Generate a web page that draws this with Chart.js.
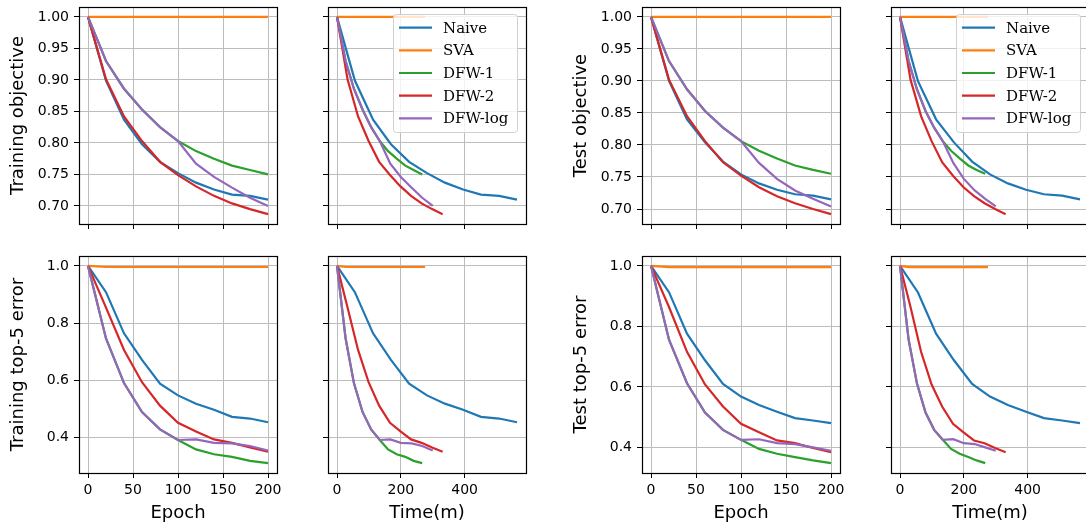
<!DOCTYPE html>
<html>
<head>
<meta charset="utf-8">
<script src="https://cdn.jsdelivr.net/npm/chart.js@4/dist/chart.umd.min.js"></script>
<style>
    html, body { margin: 0; padding: 0; background: #fff; overflow: hidden; }
    body { width: 1086px; height: 527px; position: relative; }
    .panel { position: absolute; }
    .panel canvas { display: block; }
</style>
</head>
<body>
<div id="p1" class="panel"><canvas></canvas></div>
<div id="p2" class="panel"><canvas></canvas></div>
<div id="p3" class="panel"><canvas></canvas></div>
<div id="p4" class="panel"><canvas></canvas></div>
<div id="p5" class="panel"><canvas></canvas></div>
<div id="p6" class="panel"><canvas></canvas></div>
<div id="p7" class="panel"><canvas></canvas></div>
<div id="p8" class="panel"><canvas></canvas></div>
<script>
// Series and logged epochs
const seriesNames = ['Naive', 'SVA', 'DFW-1', 'DFW-2', 'DFW-log'];
const seriesColors = ['#1f77b4', '#ff7f0e', '#2ca02c', '#d62728', '#9467bd'];
const epochs = [0, 20, 40, 60, 80, 100, 120, 140, 160, 180, 200];

// Wall-clock minutes at each logged epoch
const timeNaive  = [0, 56, 113, 169, 226, 282, 338, 395, 451, 508, 564];
const timeSVA    = [0, 28, 55, 83, 110, 138, 166, 193, 221, 248, 276];
const timeDFW1   = [0, 27, 53, 80, 107, 134, 160, 187, 214, 240, 267];
const timeDFW2   = [0, 33, 66, 99, 132, 166, 199, 232, 265, 298, 331];
const timeDFWlog = [0, 27, 53, 80, 107, 134, 167, 200, 234, 267, 300];

// Training objective
const trainObjNaive  = [1.0, 0.899, 0.837, 0.798, 0.770, 0.752, 0.737, 0.726, 0.718, 0.716, 0.710];
const trainObjSVA    = [1.0, 1.0, 1.0, 1.0, 1.0, 1.0, 1.0, 1.0, 1.0, 1.0, 1.0];
const trainObjDFW1   = [1.0, 0.930, 0.886, 0.853, 0.825, 0.803, 0.787, 0.775, 0.764, 0.757, 0.750];
const trainObjDFW2   = [1.0, 0.901, 0.842, 0.803, 0.770, 0.749, 0.731, 0.716, 0.704, 0.695, 0.687];
const trainObjDFWlog = [1.0, 0.930, 0.886, 0.853, 0.825, 0.803, 0.767, 0.746, 0.729, 0.713, 0.700];

// Training top-5 error
const trainErrNaive  = [1.0, 0.908, 0.764, 0.671, 0.588, 0.547, 0.518, 0.497, 0.472, 0.466, 0.453];
const trainErrSVA    = [1.0, 0.996, 0.996, 0.996, 0.996, 0.996, 0.996, 0.996, 0.996, 0.996, 0.996];
const trainErrDFW1   = [1.0, 0.746, 0.590, 0.489, 0.428, 0.391, 0.358, 0.341, 0.332, 0.318, 0.310];
const trainErrDFW2   = [1.0, 0.854, 0.706, 0.593, 0.511, 0.451, 0.421, 0.393, 0.381, 0.365, 0.350];
const trainErrDFWlog = [1.0, 0.746, 0.590, 0.489, 0.428, 0.391, 0.393, 0.381, 0.379, 0.370, 0.354];

// Test objective
const testObjNaive  = [1.0, 0.900, 0.840, 0.804, 0.774, 0.754, 0.740, 0.730, 0.723, 0.721, 0.715];
const testObjSVA    = [1.0, 1.0, 1.0, 1.0, 1.0, 1.0, 1.0, 1.0, 1.0, 1.0, 1.0];
const testObjDFW1   = [1.0, 0.931, 0.887, 0.853, 0.827, 0.806, 0.791, 0.779, 0.768, 0.761, 0.755];
const testObjDFW2   = [1.0, 0.902, 0.845, 0.806, 0.773, 0.752, 0.734, 0.720, 0.709, 0.700, 0.692];
const testObjDFWlog = [1.0, 0.931, 0.887, 0.853, 0.827, 0.806, 0.772, 0.747, 0.729, 0.716, 0.704];

// Test top-5 error
const testErrNaive  = [1.0, 0.913, 0.776, 0.688, 0.610, 0.568, 0.540, 0.518, 0.497, 0.489, 0.480];
const testErrSVA    = [1.0, 0.996, 0.996, 0.996, 0.996, 0.996, 0.996, 0.996, 0.996, 0.996, 0.996];
const testErrDFW1   = [1.0, 0.756, 0.612, 0.515, 0.458, 0.425, 0.395, 0.379, 0.368, 0.357, 0.348];
const testErrDFW2   = [1.0, 0.864, 0.716, 0.608, 0.535, 0.478, 0.450, 0.423, 0.414, 0.398, 0.384];
const testErrDFWlog = [1.0, 0.756, 0.612, 0.515, 0.458, 0.425, 0.427, 0.414, 0.411, 0.400, 0.389];

// Tick labels
const objTicks = [0.70, 0.75, 0.80, 0.85, 0.90, 0.95, 1.00];
const errTicks = [0.4, 0.6, 0.8, 1.0];
const epochTicks = [0, 50, 100, 150, 200];
const timeTicks = [0, 200, 400];

const times = [timeNaive, timeSVA, timeDFW1, timeDFW2, timeDFWlog];
const trainObj = [trainObjNaive, trainObjSVA, trainObjDFW1, trainObjDFW2, trainObjDFWlog];
const trainErr = [trainErrNaive, trainErrSVA, trainErrDFW1, trainErrDFW2, trainErrDFWlog];
const testObj = [testObjNaive, testObjSVA, testObjDFW1, testObjDFW2, testObjDFWlog];
const testErr = [testErrNaive, testErrSVA, testErrDFW1, testErrDFW2, testErrDFWlog];

const PLOT_W = 198, PLOT_H = 217;
const TICK_FONT = { family: 'DejaVu Sans', size: 14 };
const TITLE_FONT = { family: 'DejaVu Sans', size: 18 };

// matplotlib-like 5% margins around the data
function paddedRange(lists) {
    const all = [].concat(...lists);
    const lo = Math.min(...all), hi = Math.max(...all);
    const m = (hi - lo) * 0.05;
    return [lo - m, hi + m];
}

// Four black spines round the plot area
const spines = {
    id: 'spines',
    afterDatasetsDraw(chart) {
        const { ctx, chartArea: a } = chart;
        ctx.save();
        ctx.strokeStyle = '#000';
        ctx.lineWidth = 1.2;
        ctx.strokeRect(Math.round(a.left) + 0.5, Math.round(a.top) + 0.5,
            Math.round(a.right - a.left), Math.round(a.bottom - a.top));
        ctx.restore();
    }
};

// Framed legend in the upper right corner
const frameLegend = {
    id: 'frameLegend',
    afterDatasetsDraw(chart, args, opts) {
        if (!opts.show) return;
        const { ctx, chartArea: a } = chart;
        const w = 124, h = 118;
        const left = a.right - 9 - w, top = a.top + 7;
        ctx.save();
        ctx.beginPath();
        ctx.roundRect(left + 0.5, top + 0.5, w, h, 3);
        ctx.fillStyle = 'rgba(255,255,255,0.8)';
        ctx.fill();
        ctx.strokeStyle = '#d0d0d0';
        ctx.lineWidth = 1;
        ctx.stroke();
        ctx.font = '15px "DejaVu Serif"';
        ctx.textBaseline = 'middle';
        ctx.fillStyle = '#000';
        chart.data.datasets.forEach((ds, i) => {
            const y = top + 13.7 + i * 22.65;
            ctx.beginPath();
            ctx.moveTo(left + 6, y);
            ctx.lineTo(left + 39, y);
            ctx.strokeStyle = ds.borderColor;
            ctx.lineWidth = 2.2;
            ctx.stroke();
            ctx.fillText(ds.label, left + 50, y + 1);
        });
        ctx.restore();
    }
};

function makePanel(p) {
    const yAxisW = p.yLabels ? 79 : 8;
    const xAxisH = p.xLabels ? 54 : 8;
    const padTop = 7, padRight = 6;
    const width = yAxisW + PLOT_W + padRight;
    const height = padTop + PLOT_H + xAxisH;

    const box = document.getElementById(p.id);
    box.style.left = (p.left - yAxisW) + 'px';
    box.style.top = (p.top - padTop) + 'px';
    const canvas = box.querySelector('canvas');
    canvas.width = width;
    canvas.height = height;
    canvas.style.width = width + 'px';
    canvas.style.height = height + 'px';

    const xs = p.useTime ? times : seriesNames.map(() => epochs);
    const xRange = paddedRange(xs);
    const yRange = paddedRange(p.values);

    const datasets = seriesNames.map((name, i) => ({
        label: name,
        data: p.values[i].map((v, k) => ({ x: xs[i][k], y: v })),
        borderColor: seriesColors[i],
        borderWidth: 2.2,
        pointRadius: 0,
        tension: 0,
        fill: false,
        order: seriesNames.length - i
    }));

    const gridOpts = {
        color: '#bcbcbc',
        lineWidth: 1,
        drawTicks: true,
        tickLength: 5,
        tickColor: '#000',
        tickWidth: 1
    };

    new Chart(canvas.getContext('2d'), {
        type: 'line',
        data: { datasets },
        options: {
            responsive: false,
            animation: false,
            devicePixelRatio: 1,
            layout: { padding: { top: padTop, right: padRight, left: 0, bottom: 0 } },
            plugins: {
                legend: { display: false },
                tooltip: { enabled: false },
                frameLegend: { show: !!p.legend }
            },
            scales: {
                x: {
                    type: 'linear',
                    min: xRange[0],
                    max: xRange[1],
                    grid: gridOpts,
                    border: { display: false },
                    afterBuildTicks: s => { s.ticks = (p.useTime ? timeTicks : epochTicks).map(v => ({ value: v })); },
                    afterFit: s => { s.height = xAxisH; s.paddingLeft = 0; s.paddingRight = 0; },
                    ticks: {
                        display: p.xLabels,
                        autoSkip: false,
                        maxRotation: 0,
                        padding: 4,
                        color: '#000',
                        font: TICK_FONT,
                        callback: v => String(v)
                    },
                    title: {
                        display: p.xLabels,
                        text: p.useTime ? 'Time(m)' : 'Epoch',
                        color: '#000',
                        font: TITLE_FONT,
                        padding: { top: 0, bottom: 3 }
                    }
                },
                y: {
                    type: 'linear',
                    min: yRange[0],
                    max: yRange[1],
                    grid: gridOpts,
                    border: { display: false },
                    afterBuildTicks: s => { s.ticks = p.ticks.map(v => ({ value: v })); },
                    afterFit: s => { s.width = yAxisW; s.paddingTop = 0; s.paddingBottom = 0; },
                    ticks: {
                        display: p.yLabels,
                        autoSkip: false,
                        padding: 5,
                        color: '#000',
                        font: TICK_FONT,
                        callback: v => v.toFixed(p.digits)
                    },
                    title: {
                        display: p.yLabels,
                        text: p.yTitle,
                        color: '#000',
                        font: TITLE_FONT,
                        padding: { top: 8, bottom: 0 }
                    }
                }
            }
        },
        plugins: [spines, frameLegend]
    });
}

const panels = [
    { id: 'p1', left: 79,  top: 7,   values: trainObj, ticks: objTicks, digits: 2, yTitle: 'Training objective', yLabels: true,  xLabels: false, useTime: false },
    { id: 'p2', left: 328, top: 7,   values: trainObj, ticks: objTicks, digits: 2, yTitle: '', yLabels: false, xLabels: false, useTime: true, legend: true },
    { id: 'p3', left: 642, top: 7,   values: testObj,  ticks: objTicks, digits: 2, yTitle: 'Test objective', yLabels: true,  xLabels: false, useTime: false },
    { id: 'p4', left: 891, top: 7,   values: testObj,  ticks: objTicks, digits: 2, yTitle: '', yLabels: false, xLabels: false, useTime: true, legend: true },
    { id: 'p5', left: 79,  top: 256, values: trainErr, ticks: errTicks, digits: 1, yTitle: 'Training top-5 error', yLabels: true,  xLabels: true, useTime: false },
    { id: 'p6', left: 328, top: 256, values: trainErr, ticks: errTicks, digits: 1, yTitle: '', yLabels: false, xLabels: true, useTime: true },
    { id: 'p7', left: 642, top: 256, values: testErr,  ticks: errTicks, digits: 1, yTitle: 'Test top-5 error', yLabels: true,  xLabels: true, useTime: false },
    { id: 'p8', left: 891, top: 256, values: testErr,  ticks: errTicks, digits: 1, yTitle: '', yLabels: false, xLabels: true, useTime: true }
];

panels.forEach(makePanel);
</script>
</body>
</html>
